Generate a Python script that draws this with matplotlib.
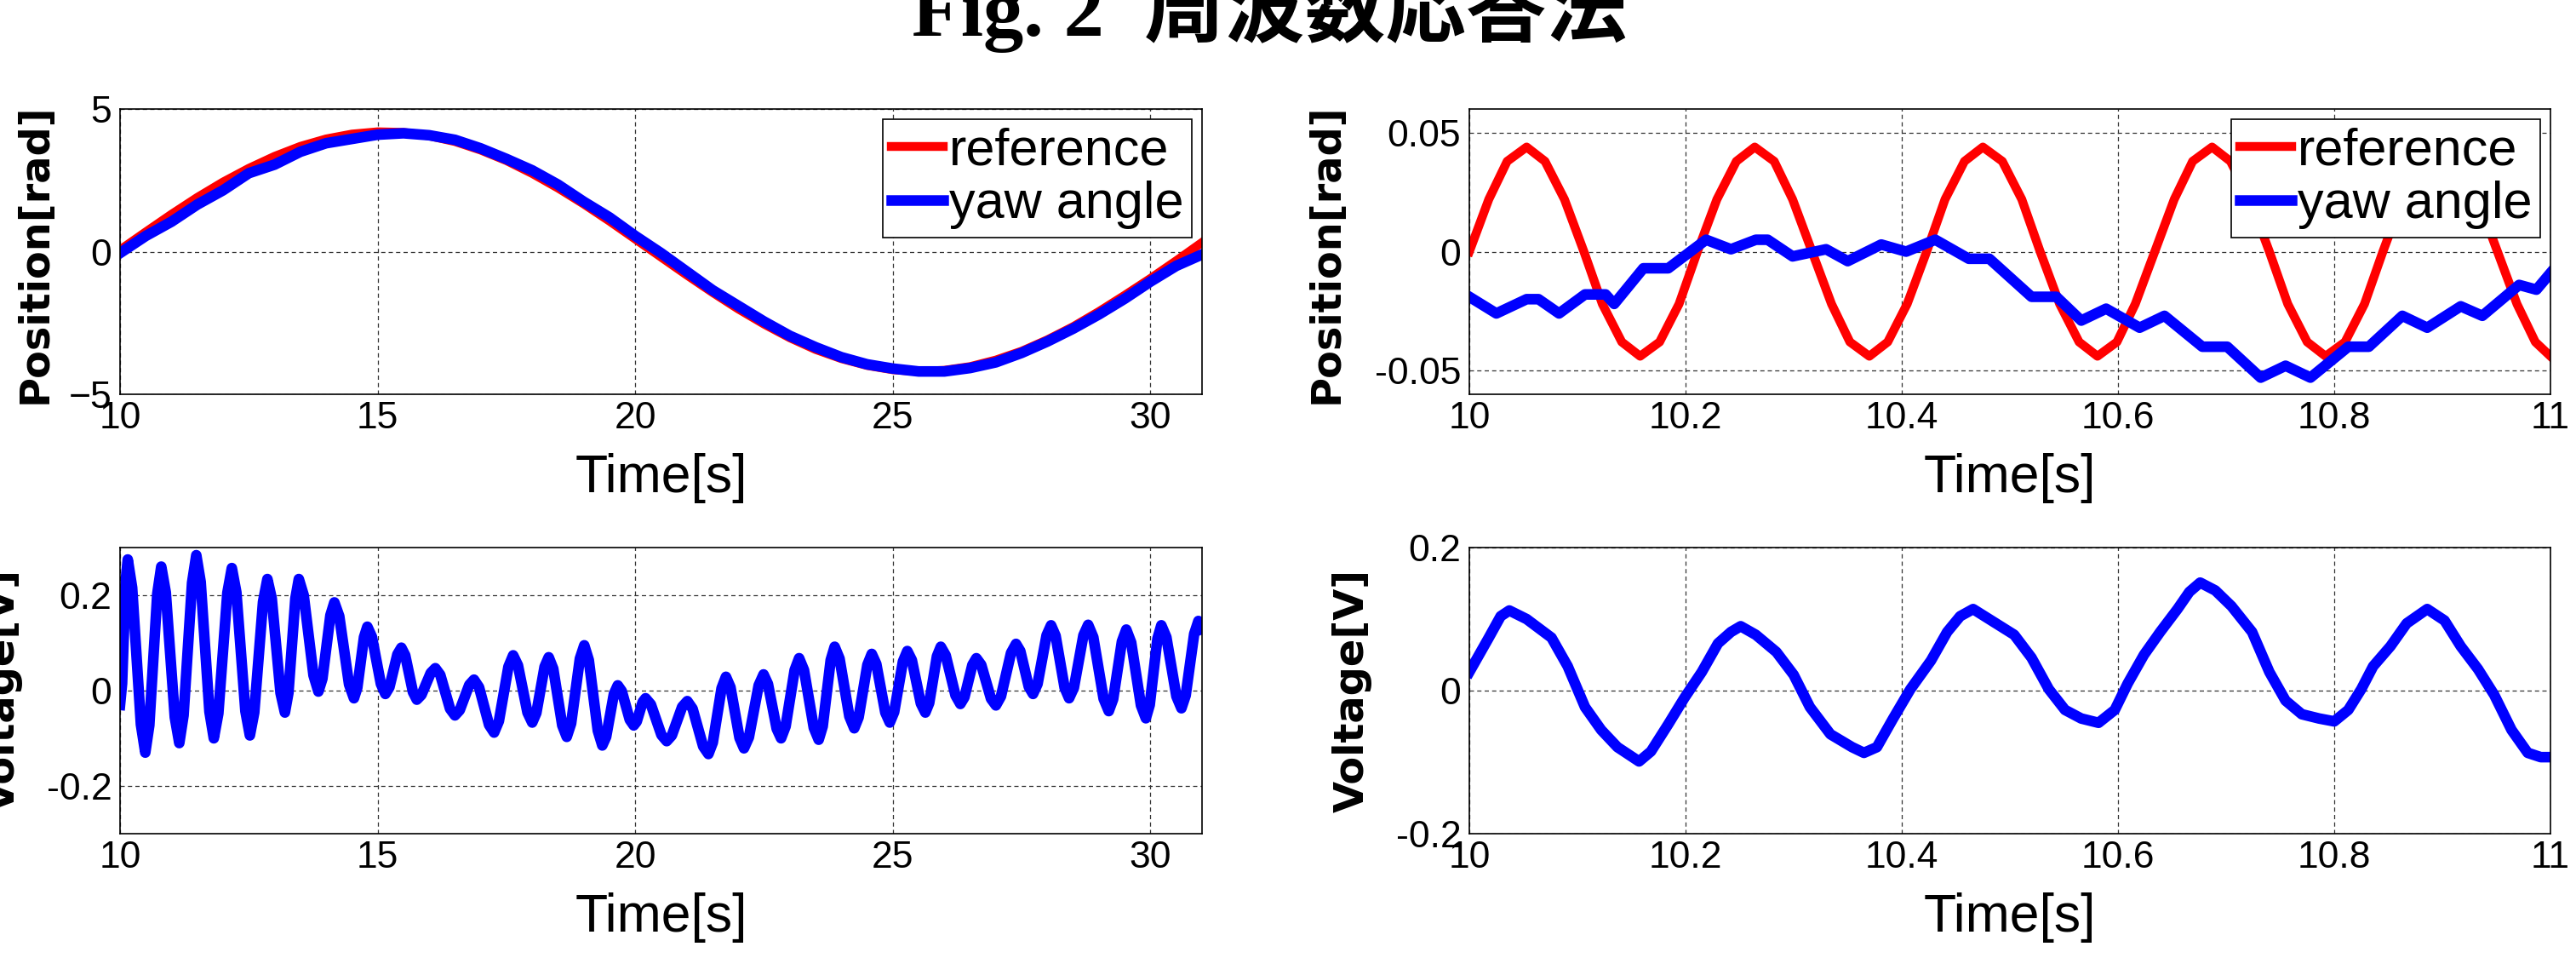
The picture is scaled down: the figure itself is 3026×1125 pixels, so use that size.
import matplotlib
matplotlib.use('Agg')
import matplotlib.pyplot as plt

plt.rcParams['font.family'] = ['Liberation Sans', 'Noto Sans CJK JP', 'DejaVu Sans']

# --- data ---
# top-left: position over 10..31 s
t_long = [10.0, 10.5, 11.0, 11.5, 12.0, 12.5, 13.0, 13.5, 14.0, 14.5, 15.0, 15.5,
          16.0, 16.5, 17.0, 17.5, 18.0, 18.5, 19.0, 19.5, 20.0, 20.5, 21.0, 21.5,
          22.0, 22.5, 23.0, 23.5, 24.0, 24.5, 25.0, 25.5, 26.0, 26.5, 27.0, 27.5,
          28.0, 28.5, 29.0, 29.5, 30.0, 30.5, 31.0]
ref_long = [0.06, 0.69, 1.31, 1.90, 2.44, 2.92, 3.34, 3.69, 3.95, 4.12, 4.20, 4.18,
            4.06, 3.86, 3.56, 3.19, 2.74, 2.23, 1.67, 1.07, 0.44, -0.19, -0.82, -1.43,
            -2.01, -2.54, -3.02, -3.43, -3.75, -3.99, -4.14, -4.20, -4.16, -4.03, -3.80, -3.49,
            -3.09, -2.63, -2.10, -1.53, -0.94, -0.32, 0.32]
yaw_long = [-0.05, 0.55, 1.05, 1.65, 2.15, 2.75, 3.05, 3.50, 3.80, 3.95, 4.10, 4.15,
            4.08, 3.92, 3.62, 3.25, 2.85, 2.35, 1.75, 1.20, 0.55, -0.05, -0.70, -1.35,
            -1.90, -2.45, -2.95, -3.35, -3.70, -3.95, -4.10, -4.20, -4.20, -4.08, -3.88, -3.55,
            -3.15, -2.70, -2.20, -1.65, -1.05, -0.50, -0.10]

# top-right: position over 10..11 s
t_ref_short = [10.000, 10.018, 10.035, 10.053, 10.070, 10.088, 10.106, 10.123, 10.141, 10.158,
               10.176, 10.194, 10.211, 10.229, 10.247, 10.264, 10.282, 10.299, 10.317, 10.335,
               10.352, 10.370, 10.387, 10.405, 10.423, 10.440, 10.458, 10.475, 10.493, 10.511,
               10.528, 10.546, 10.564, 10.581, 10.599, 10.616, 10.634, 10.652, 10.669, 10.687,
               10.704, 10.722, 10.740, 10.757, 10.775, 10.792, 10.810, 10.828, 10.845, 10.863,
               10.880, 10.898, 10.916, 10.933, 10.951, 10.969, 10.986, 11.000]
ref_short = [0.000, 0.022, 0.038, 0.044, 0.038, 0.022, 0.000, -0.022, -0.038, -0.044,
             -0.038, -0.022, 0.000, 0.022, 0.038, 0.044, 0.038, 0.022, 0.000, -0.022,
             -0.038, -0.044, -0.038, -0.022, 0.000, 0.022, 0.038, 0.044, 0.038, 0.022,
             0.000, -0.022, -0.038, -0.044, -0.038, -0.022, 0.000, 0.022, 0.038, 0.044,
             0.038, 0.022, 0.000, -0.022, -0.038, -0.044, -0.038, -0.022, 0.000, 0.022,
             0.038, 0.044, 0.038, 0.022, 0.000, -0.022, -0.038, -0.044]
t_yaw_short = [10.000, 10.025, 10.053, 10.064, 10.083, 10.107, 10.126, 10.134, 10.161, 10.184,
               10.219, 10.242, 10.265, 10.276, 10.299, 10.330, 10.350, 10.381, 10.404, 10.431,
               10.462, 10.481, 10.520, 10.543, 10.566, 10.589, 10.620, 10.643, 10.678, 10.701,
               10.732, 10.755, 10.778, 10.813, 10.832, 10.863, 10.886, 10.917, 10.937, 10.971,
               10.987, 11.000]
yaw_short = [-0.019, -0.026, -0.020, -0.020, -0.026, -0.018, -0.018, -0.022, -0.007, -0.007,
             0.005, 0.001, 0.005, 0.005, -0.002, 0.001, -0.004, 0.003, 0.000, 0.005,
             -0.003, -0.003, -0.019, -0.019, -0.029, -0.024, -0.032, -0.027, -0.040, -0.040,
             -0.053, -0.048, -0.053, -0.040, -0.040, -0.027, -0.032, -0.023, -0.027, -0.014,
             -0.016, -0.009]

# bottom-left: voltage over 10..31 s (extrema plus shoulder points of each swing)
t_volt_long = [
    10.00, 10.04, 10.11, 10.15, 10.235, 10.405, 10.49, 10.568, 10.723, 10.80,
    10.888, 11.063, 11.15, 11.233, 11.398, 11.48, 11.565, 11.735, 11.82, 11.908,
    12.083, 12.17, 12.258, 12.433, 12.52, 12.605, 12.775, 12.86, 12.945, 13.115,
    13.20, 13.268, 13.403, 13.47, 13.565, 13.755, 13.85, 13.928, 14.083, 14.16,
    14.255, 14.445, 14.54, 14.605, 14.735, 14.80, 14.888, 15.063, 15.15, 15.228,
    15.383, 15.46, 15.535, 15.685, 15.76, 15.85, 16.03, 16.12, 16.215, 16.405,
    16.50, 16.593, 16.778, 16.87, 16.968, 17.163, 17.26, 17.353, 17.538, 17.63,
    17.723, 17.908, 18.00, 18.08, 18.24, 18.32, 18.408, 18.583, 18.67, 18.755,
    18.925, 19.01, 19.098, 19.273, 19.36, 19.435, 19.585, 19.66, 19.738, 19.893,
    19.97, 20.028, 20.143, 20.20, 20.303, 20.508, 20.61, 20.71, 20.91, 21.01,
    21.113, 21.318, 21.42, 21.505, 21.675, 21.76, 21.848, 22.023, 22.11, 22.205,
    22.395, 22.49, 22.575, 22.745, 22.83, 22.918, 23.093, 23.18, 23.275, 23.465,
    23.56, 23.638, 23.793, 23.87, 23.965, 24.155, 24.25, 24.335, 24.505, 24.59,
    24.678, 24.853, 24.94, 25.025, 25.195, 25.28, 25.368, 25.543, 25.63, 25.705,
    25.855, 25.93, 26.025, 26.215, 26.31, 26.388, 26.543, 26.62, 26.715, 26.905,
    27.00, 27.098, 27.293, 27.39, 27.473, 27.638, 27.72, 27.808, 27.983, 28.07,
    28.158, 28.333, 28.42, 28.513, 28.698, 28.79, 28.89, 29.09, 29.19, 29.275,
    29.445, 29.53, 29.625, 29.815, 29.91, 29.985, 30.135, 30.21, 30.308, 30.503,
    30.60, 30.683, 30.848, 30.93, 31.00]
volt_long = [
    -0.030, 0.015, 0.230, 0.275, 0.216, -0.071, -0.130, -0.073, 0.203, 0.260,
    0.206, -0.056, -0.110, -0.052, 0.226, 0.284, 0.228, -0.044, -0.100, -0.048,
    0.205, 0.257, 0.206, -0.043, -0.094, -0.046, 0.186, 0.234, 0.193, -0.005,
    -0.046, -0.005, 0.193, 0.234, 0.200, 0.032, -0.002, 0.025, 0.158, 0.185,
    0.156, 0.013, -0.016, 0.006, 0.112, 0.134, 0.113, 0.014, -0.007, 0.007,
    0.076, 0.090, 0.074, -0.003, -0.019, -0.009, 0.037, 0.047, 0.033, -0.038,
    -0.052, -0.041, 0.012, 0.023, 0.007, -0.072, -0.088, -0.064, 0.050, 0.074,
    0.053, -0.046, -0.067, -0.047, 0.050, 0.070, 0.046, -0.073, -0.097, -0.069,
    0.067, 0.095, 0.064, -0.084, -0.115, -0.097, -0.007, 0.011, -0.001, -0.061,
    -0.073, -0.065, -0.024, -0.016, -0.029, -0.093, -0.106, -0.094, -0.034, -0.022,
    -0.038, -0.117, -0.133, -0.109, 0.005, 0.029, 0.007, -0.099, -0.121, -0.098,
    0.011, 0.034, 0.014, -0.080, -0.100, -0.075, 0.043, 0.068, 0.043, -0.078,
    -0.103, -0.075, 0.064, 0.092, 0.067, -0.054, -0.079, -0.056, 0.054, 0.077,
    0.056, -0.046, -0.067, -0.045, 0.061, 0.083, 0.064, -0.027, -0.046, -0.026,
    0.072, 0.092, 0.074, -0.010, -0.028, -0.014, 0.054, 0.068, 0.054, -0.017,
    -0.031, -0.012, 0.079, 0.098, 0.083, 0.008, -0.007, 0.014, 0.116, 0.137,
    0.115, 0.006, -0.016, 0.006, 0.116, 0.138, 0.112, -0.017, -0.043, -0.018,
    0.103, 0.128, 0.101, -0.031, -0.058, -0.030, 0.109, 0.137, 0.112, -0.012,
    -0.037, -0.010, 0.119, 0.146, 0.130]

# bottom-right: voltage over 10..11 s
t_volt_short = [10.000, 10.018, 10.029, 10.037, 10.053, 10.076, 10.091, 10.107, 10.122, 10.137,
                10.157, 10.168, 10.184, 10.199, 10.215, 10.230, 10.242, 10.251, 10.265, 10.284,
                10.300, 10.315, 10.334, 10.354, 10.365, 10.377, 10.392, 10.408, 10.427, 10.442,
                10.454, 10.466, 10.485, 10.504, 10.520, 10.536, 10.551, 10.566, 10.582, 10.597,
                10.609, 10.624, 10.639, 10.655, 10.666, 10.676, 10.690, 10.705, 10.724, 10.740,
                10.755, 10.770, 10.786, 10.800, 10.813, 10.825, 10.836, 10.852, 10.867, 10.886,
                10.902, 10.917, 10.933, 10.948, 10.964, 10.979, 10.991, 11.000]
volt_short = [0.026, 0.074, 0.104, 0.112, 0.100, 0.074, 0.034, -0.023, -0.055, -0.079,
              -0.099, -0.085, -0.047, -0.010, 0.026, 0.066, 0.082, 0.090, 0.078, 0.054,
              0.022, -0.023, -0.061, -0.079, -0.087, -0.079, -0.039, 0.002, 0.042, 0.082,
              0.104, 0.114, 0.096, 0.078, 0.046, 0.002, -0.027, -0.039, -0.045, -0.027,
              0.010, 0.050, 0.082, 0.114, 0.138, 0.151, 0.140, 0.118, 0.082, 0.026,
              -0.014, -0.033, -0.039, -0.043, -0.027, 0.002, 0.034, 0.062, 0.094, 0.114,
              0.098, 0.062, 0.030, -0.006, -0.055, -0.087, -0.093, -0.093]

long_ticks = [10, 15, 20, 25, 30]
short_ticks = [10, 10.2, 10.4, 10.6, 10.8, 11]
short_ticklabels = ['10', '10.2', '10.4', '10.6', '10.8', '11']

W, H = 3026, 1125
fig = plt.figure(figsize=(W / 100, H / 100), dpi=100)

def box(x0, y0, x1, y1):
    return [x0 / W, 1 - y1 / H, (x1 - x0) / W, (y1 - y0) / H]

ax_tl = fig.add_axes(box(141, 128, 1412, 463))
ax_tr = fig.add_axes(box(1726, 128, 2996, 463))
ax_bl = fig.add_axes(box(141, 643, 1412, 979))
ax_br = fig.add_axes(box(1726, 643, 2996, 979))

RED = '#ff0000'
BLUE = '#0000ff'

ax_tl.plot(t_long, ref_long, color=RED, lw=7.5, label='reference', solid_joinstyle='round')
ax_tl.plot(t_long, yaw_long, color=BLUE, lw=9, label='yaw angle', solid_joinstyle='round')
ax_tl.set_xlim(10, 31)
ax_tl.set_ylim(-5, 5)
ax_tl.set_xticks(long_ticks)
ax_tl.set_yticks([-5, 0, 5])

ax_tr.plot(t_ref_short, ref_short, color=RED, lw=7.5, label='reference', solid_joinstyle='round')
ax_tr.plot(t_yaw_short, yaw_short, color=BLUE, lw=9, label='yaw angle', solid_joinstyle='round')
ax_tr.set_xlim(10, 11)
ax_tr.set_ylim(-0.06, 0.06)
ax_tr.set_xticks(short_ticks)
ax_tr.set_xticklabels(short_ticklabels)
ax_tr.set_yticks([-0.05, 0, 0.05])
ax_tr.set_yticklabels(['-0.05', '0', '0.05'])

ax_bl.plot(t_volt_long, volt_long, color=BLUE, lw=9, solid_joinstyle='round')
ax_bl.set_xlim(10, 31)
ax_bl.set_ylim(-0.3, 0.3)
ax_bl.set_xticks(long_ticks)
ax_bl.set_yticks([-0.2, 0, 0.2])
ax_bl.set_yticklabels(['-0.2', '0', '0.2'])

ax_br.plot(t_volt_short, volt_short, color=BLUE, lw=9, solid_joinstyle='round')
ax_br.set_xlim(10, 11)
ax_br.set_ylim(-0.2, 0.2)
ax_br.set_xticks(short_ticks)
ax_br.set_xticklabels(short_ticklabels)
ax_br.set_yticks([-0.2, 0, 0.2])
ax_br.set_yticklabels(['-0.2', '0', '0.2'])

for ax in (ax_tl, ax_tr, ax_bl, ax_br):
    ax.set_axisbelow(True)
    ax.grid(True, color='#333333', linestyle=(0, (4, 3)), linewidth=0.9)
    ax.tick_params(axis='both', length=0, labelsize=32)
    ax.tick_params(axis='x', pad=6)
    ax.tick_params(axis='y', pad=7)
    for sp in ax.spines.values():
        sp.set_linewidth(1.2)
        sp.set_color('black')
    ax.set_xlabel('Time[s]', fontsize=45)
    ax.xaxis.set_label_coords(0.5, -0.205)

for ax in (ax_tl, ax_tr):
    leg = ax.legend(loc='upper right', fontsize=44, handlelength=1.0, handletextpad=0.12,
                    borderpad=0.15, labelspacing=0.1, borderaxespad=0.2,
                    fancybox=False, edgecolor='black', framealpha=1)
    leg.get_frame().set_linewidth(1.2)

# rotated y labels in a wide bold face
ylab = dict(rotation=90, ha='center', va='center', fontsize=34.5, fontweight='bold',
            family=['DejaVu Sans'])
fig.text(41 / W, 1 - 298 / H, 'Position[rad]', **ylab)
fig.text(1558 / W, 1 - 298 / H, 'Position[rad]', **ylab)
fig.text(3 / W, 1 - 811 / H, 'Voltage[V]', **ylab)
fig.text(1588 / W, 1 - 811 / H, 'Voltage[V]', **ylab)

fig.text(1491 / W, 1 - 42 / H, 'Fig. 2  周波数応答法', ha='center', va='baseline',
         fontsize=68, fontweight='bold', family=['Liberation Serif', 'Noto Sans CJK JP'])

fig.savefig('out.png', dpi=100)
